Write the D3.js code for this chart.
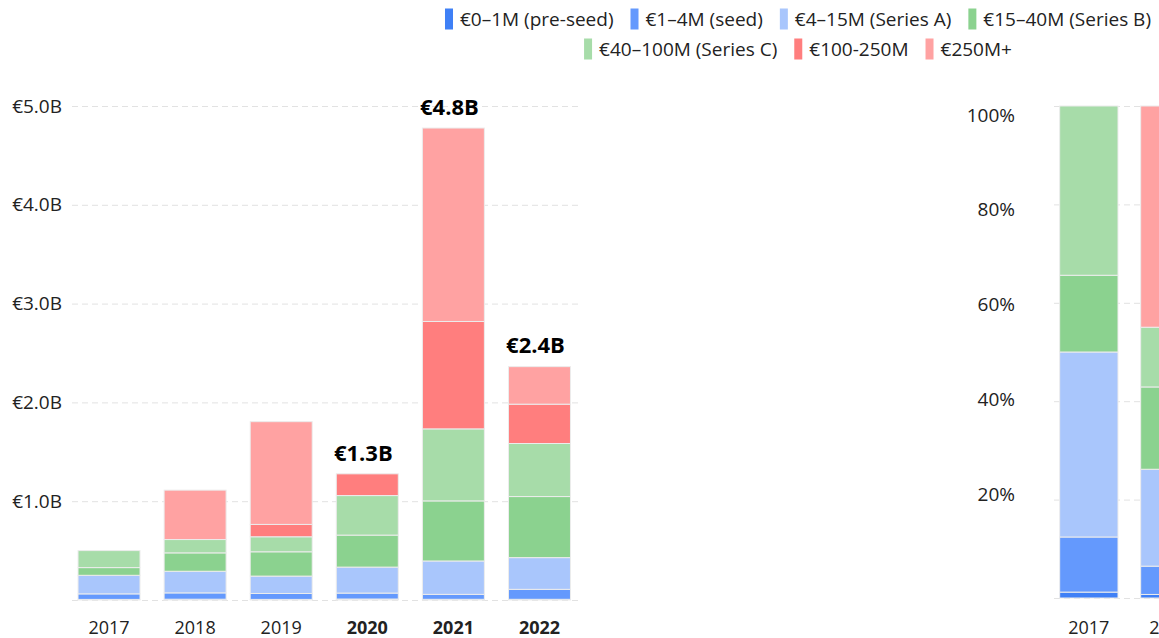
<!DOCTYPE html>
<html>
<head>
<meta charset="utf-8">
<script src="https://cdn.jsdelivr.net/npm/d3@7"></script>
<style>
  html, body { margin: 0; padding: 0; background: #fff; }
  svg { display: block; font-family: "Open Sans", "Noto Sans", sans-serif; }
  .tick-label { font-size: 19px; fill: #222; }
  .xlab { font-size: 18px; }
  .total-label { font-size: 22px; font-weight: 700; fill: #000; }
  .legend-text { font-size: 19px; fill: #222; }
  .grid { stroke: #e2e2e2; stroke-width: 1; stroke-dasharray: 6 4; }
</style>
</head>
<body>
<svg id="chart" width="1159" height="638"></svg>
<script>
// funding volume by round size, € millions
var years = ["2017", "2018", "2019", "2020", "2021", "2022"];
var boldYears = ["2020", "2021", "2022"];
var seriesNames = ["€0–1M (pre-seed)", "€1–4M (seed)", "€4–15M (Series A)", "€15–40M (Series B)",
                   "€40–100M (Series C)", "€100-250M", "€250M+"];
var seriesColors = ["#3f80f6", "#6499fd", "#a9c6fc", "#8bd28f", "#a7dca9", "#ff7e7e", "#ffa2a2"];
var preSeed  = [6, 8, 6, 10, 7, 7];
var seed     = [56, 64, 60, 60, 50, 101];
var seriesA  = [188, 219, 176, 263, 338, 321];
var seriesB  = [78, 186, 246, 324, 608, 618];
var seriesC  = [172, 135, 152, 400, 729, 537];
var m100_250 = [0, 0, 125, 220, 1087, 398];
var m250plus = [0, 500, 1040, 0, 1958, 380];
var absTicks = [1000, 2000, 3000, 4000, 5000];
var pctTicks = [20, 40, 60, 80, 100];

var allSeries = [preSeed, seed, seriesA, seriesB, seriesC, m100_250, m250plus];
var keys = seriesNames;
var rows = years.map(function (y, i) {
  var r = { year: y, total: 0 };
  keys.forEach(function (k, j) { r[k] = allSeries[j][i]; r.total += allSeries[j][i]; });
  return r;
});
var pctRows = rows.map(function (r) {
  var p = { year: r.year };
  keys.forEach(function (k) { p[k] = r[k] / r.total * 100; });
  return p;
});

var svg = d3.select("#chart");
var color = d3.scaleOrdinal().domain(keys).range(seriesColors);
var stack = d3.stack().keys(keys);

function fmtB(v) { return "€" + (v / 1000).toFixed(1) + "B"; }

function panel(opts) {
  var g = svg.append("g");
  var x = d3.scaleBand().domain(years).range(opts.xRange).paddingInner(0.28).paddingOuter(0.07);
  var y = opts.y;

  g.selectAll("line.grid").data([0].concat(opts.ticks)).join("line")
    .attr("class", "grid")
    .attr("x1", opts.xRange[0]).attr("x2", opts.gridEnd)
    .attr("y1", function (d) { return y(d) + 0.5; }).attr("y2", function (d) { return y(d) + 0.5; });

  g.selectAll("text.ylab").data(opts.ticks).join("text")
    .attr("class", "tick-label ylab")
    .attr("x", opts.labelX).attr("y", function (d) { return opts.labelY(d); })
    .attr("text-anchor", "end").attr("dy", "0.35em")
    .text(opts.tickFmt);

  var layers = g.selectAll("g.layer").data(stack(opts.data)).join("g")
    .attr("class", "layer").attr("fill", function (d) { return color(d.key); });
  layers.selectAll("rect").data(function (d) { return d.filter(function (s) { return s[1] - s[0] > 0; }); }).join("rect")
    .attr("x", function (d) { return x(d.data.year); })
    .attr("width", x.bandwidth())
    .attr("y", function (d) { return y(d[1]); })
    .attr("height", function (d) { return y(d[0]) - y(d[1]); })
    .attr("stroke", "#ececec").attr("stroke-width", 1);

  g.selectAll("text.xlab").data(years).join("text")
    .attr("class", "tick-label xlab")
    .attr("x", function (d) { return x(d) + x.bandwidth() / 2; })
    .attr("y", 628).attr("dy", "0.35em").attr("text-anchor", "middle")
    .style("font-weight", function (d) { return boldYears.indexOf(d) >= 0 ? 700 : 400; })
    .text(function (d) { return d; });
  return { x: x, g: g };
}

// left: absolute volume
var yAbs = d3.scaleLinear().domain([0, 5000]).range([600, 106]);
var left = panel({
  data: rows, xRange: [72, 576.5], gridEnd: 580, y: yAbs, ticks: absTicks,
  labelX: 62, labelY: yAbs, tickFmt: fmtB
});
left.g.selectAll("text.total").data(rows.filter(function (r) { return boldYears.indexOf(r.year) >= 0; })).join("text")
  .attr("class", "total-label")
  .attr("x", function (d) { return left.x(d.year) + left.x.bandwidth() / 2 - 4; })
  .attr("y", function (d) { return yAbs(d.total) - 21; })
  .attr("dy", "0.35em").attr("text-anchor", "middle")
  .text(function (d) { return fmtB(d.total); });

// right: share of volume (panel runs past the window edge)
var yPct = d3.scaleLinear().domain([0, 100]).range([598, 106]);
var pctLabelY = d3.scaleLinear().domain([20, 100]).range([494, 115]);
panel({
  data: pctRows, xRange: [1054, 1054 + 81 * 5.86], gridEnd: 1600, y: yPct, ticks: pctTicks,
  labelX: 1015, labelY: pctLabelY, tickFmt: function (d) { return d + "%"; }
});

// legend, two centred rows
var legendRows = [keys.slice(0, 4), keys.slice(4)];
legendRows.forEach(function (rowKeys, ri) {
  var lg = svg.append("g");
  var cx = 0;
  rowKeys.forEach(function (k) {
    var item = lg.append("g").attr("transform", "translate(" + cx + ",0)");
    item.append("rect").attr("x", 0).attr("y", -10.5).attr("width", 8).attr("height", 21).attr("fill", color(k));
    var t = item.append("text").attr("class", "legend-text").attr("x", 15).attr("dy", "0.35em").text(k);
    cx += 15 + t.node().getComputedTextLength() + 17;
  });
  var w = cx - 17;
  lg.attr("transform", "translate(" + (798 - w / 2) + "," + (19 + ri * 30) + ")");
});
</script>
</body>
</html>
